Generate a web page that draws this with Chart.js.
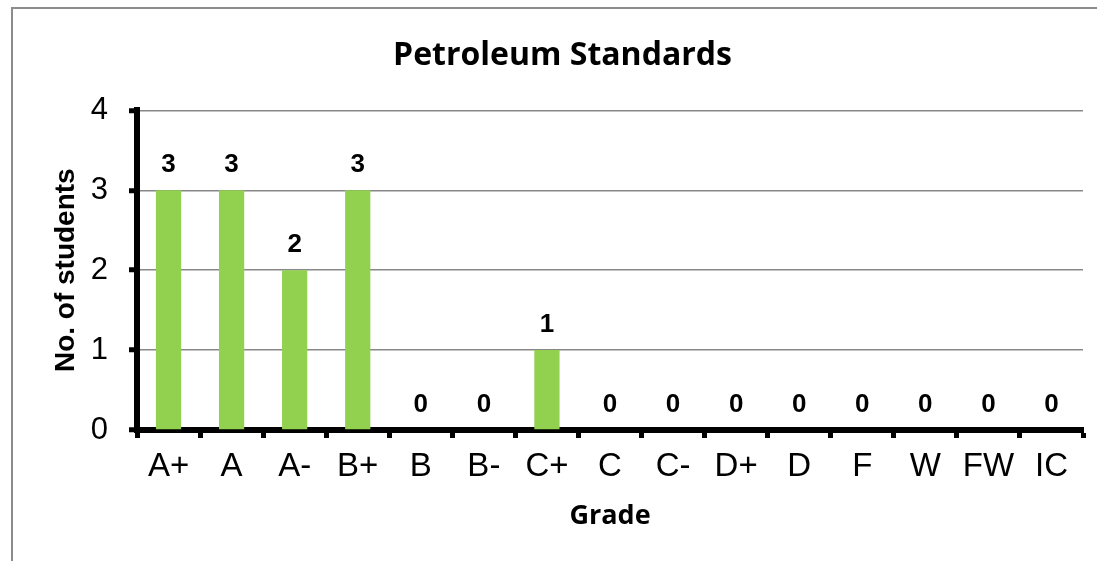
<!DOCTYPE html>
<html>
<head>
<meta charset="utf-8">
<script src="https://cdn.jsdelivr.net/npm/chart.js@4.4.1/dist/chart.umd.min.js"></script>
<style>
  html, body { margin: 0; padding: 0; background: #fff; overflow: hidden; }
  #frame { position: absolute; left: 11px; top: 7px; width: 1200px; height: 700px; border: 2px solid #8c8c8c; }
  #wrap { position: absolute; left: 0; top: 0; width: 1097px; height: 561px; }
</style>
</head>
<body>
<div id="frame"></div>
<div id="wrap"><canvas id="chart"></canvas></div>
<script>
  // Data
  const grades = ["A+", "A", "A-", "B+", "B", "B-", "C+", "C", "C-", "D+", "D", "F", "W", "FW", "IC"];
  const students = [3, 3, 2, 3, 0, 0, 1, 0, 0, 0, 0, 0, 0, 0, 0];
  const yMin = 0;
  const yMax = 4;
  const yStep = 1;

  const chartTitle = "Petroleum Standards";
  const xTitle = "Grade";
  const yTitle = "No. of students";

  const barColor = "#92d050";
  const gridColor = "#888888";
  const axisColor = "#000000";

  // Bold value labels above each bar (zeros included)
  const valueLabelPlugin = {
    id: "valueLabel",
    afterDatasetsDraw(chart) {
      const { ctx } = chart;
      ctx.save();
      ctx.fillStyle = "#000";
      ctx.font = "bold 26px 'Liberation Sans', Arial, sans-serif";
      ctx.textAlign = "center";
      ctx.textBaseline = "alphabetic";
      chart.data.datasets.forEach((dataset, i) => {
        const meta = chart.getDatasetMeta(i);
        meta.data.forEach((bar, index) => {
          ctx.fillText(String(dataset.data[index]), bar.x, bar.y - 18);
        });
      });
      ctx.restore();
    },
  };

  new Chart(document.getElementById("chart"), {
    type: "bar",
    data: {
      labels: grades,
      datasets: [
        {
          data: students,
          backgroundColor: barColor,
          borderWidth: 0,
          categoryPercentage: 1,
          barPercentage: 0.4,
        },
      ],
    },
    plugins: [valueLabelPlugin],
    options: {
      responsive: true,
      maintainAspectRatio: false,
      animation: false,
      devicePixelRatio: 1,
      // left padding keeps the title centred on the frame like the original
      layout: { padding: { top: 0, right: 14, bottom: 0, left: 42 } },
      plugins: {
        legend: { display: false },
        tooltip: { enabled: false },
        title: {
          display: true,
          text: chartTitle,
          color: "#000",
          font: { family: "'Open Sans', sans-serif", size: 32, weight: "bold" },
          padding: { top: 37, bottom: 35 },
        },
      },
      scales: {
        x: {
          z: 1,
          grid: {
            drawOnChartArea: false,
            drawTicks: true,
            tickLength: 8,
            tickWidth: 5,
            tickColor: axisColor,
            offset: true,
          },
          border: { display: true, color: axisColor, width: 6 },
          ticks: {
            color: "#000",
            padding: 9,
            font: { family: "'Liberation Sans', Arial, sans-serif", size: 33 },
          },
          title: {
            display: true,
            text: xTitle,
            color: "#000",
            font: { family: "'Open Sans', sans-serif", size: 27, weight: "bold" },
            padding: { top: 0, bottom: 28 },
          },
          afterFit(scale) {
            scale.height = 131;
          },
        },
        y: {
          min: yMin,
          max: yMax,
          grid: {
            color: gridColor,
            lineWidth: 1.5,
            drawTicks: true,
            tickLength: 8,
            tickWidth: 5,
            tickColor: axisColor,
          },
          border: { display: true, color: axisColor, width: 6 },
          ticks: {
            stepSize: yStep,
            color: "#000",
            padding: 21,
            font: { family: "'Liberation Sans', Arial, sans-serif", size: 31 },
          },
          title: {
            display: true,
            text: yTitle,
            color: "#000",
            font: { family: "'Liberation Sans', Arial, sans-serif", size: 28, weight: "bold" },
            padding: { top: 7, bottom: 0 },
          },
          afterFit(scale) {
            scale.width = 95;
          },
        },
      },
    },
  });
</script>
</body>
</html>
